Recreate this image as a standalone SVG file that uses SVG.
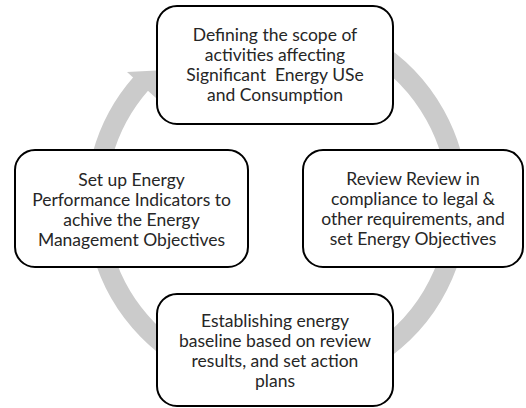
<svg xmlns="http://www.w3.org/2000/svg" width="526" height="408" viewBox="0 0 526 408">
  <style>
    .box { fill: #ffffff; stroke: #000000; stroke-width: 2; }
    .lbl { font-family: Lato, "Liberation Sans", sans-serif; font-size: 17.5px; fill: #262626; text-anchor: middle; white-space: pre; }
    .ring { fill: none; stroke: #cbcbcb; stroke-width: 20; }
    .head { fill: #cbcbcb; stroke: none; }
  </style>
  <rect width="526" height="408" fill="#ffffff"/>
  <g id="connectors">
    <path class="ring" d="M 200.5 39 A 181 181 0 1 1 141.4 83.1"/>
    <polygon class="head" points="127,72 186,69 156,98"/>
  </g>
  <g id="node-scope">
    <rect class="box" x="157" y="6" width="236" height="118" rx="20" ry="20"/>
    <text class="lbl" x="275" y="41">Defining the scope of</text>
    <text class="lbl" x="275" y="61">activities affecting</text>
    <text class="lbl" x="275" y="81" xml:space="preserve">Significant  Energy USe</text>
    <text class="lbl" x="275" y="101">and Consumption</text>
  </g>
  <g id="node-review">
    <rect class="box" x="303" y="150" width="220" height="117" rx="20" ry="20"/>
    <text class="lbl" x="413" y="185">Review Review in</text>
    <text class="lbl" x="413" y="205">compliance to legal &amp;</text>
    <text class="lbl" x="413" y="225">other requirements, and</text>
    <text class="lbl" x="413" y="245">set Energy Objectives</text>
  </g>
  <g id="node-baseline">
    <rect class="box" x="157" y="294" width="236" height="112" rx="20" ry="20"/>
    <text class="lbl" x="275" y="327">Establishing energy</text>
    <text class="lbl" x="275" y="347">baseline based on review</text>
    <text class="lbl" x="275" y="367">results, and set action</text>
    <text class="lbl" x="275" y="387">plans</text>
  </g>
  <g id="node-indicators">
    <rect class="box" x="15" y="150" width="233" height="117" rx="20" ry="20"/>
    <text class="lbl" x="131.5" y="186">Set up Energy</text>
    <text class="lbl" x="131.5" y="206">Performance Indicators to</text>
    <text class="lbl" x="131.5" y="226">achive the Energy</text>
    <text class="lbl" x="131.5" y="246">Management Objectives</text>
  </g>
</svg>
